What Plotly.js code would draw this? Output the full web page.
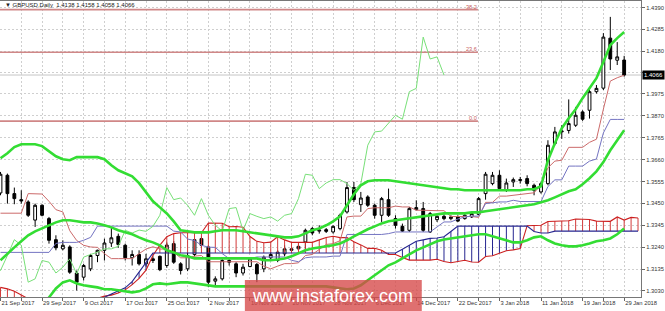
<!DOCTYPE html>
<html><head><meta charset="utf-8">
<script src="https://cdn.plot.ly/plotly-3.0.1.min.js"></script>
<style>html,body{margin:0;padding:0;background:#fff;overflow:hidden}#chart{width:665px;height:311px}</style>
</head><body><div id="chart"></div>
<script>
// ---- data ----
const symbol = "GBPUSD,Daily";
const tickDates = ["21 Sep 2017","29 Sep 2017","9 Oct 2017","17 Oct 2017","25 Oct 2017","2 Nov 2017","10 Nov 2017","20 Nov 2017","28 Nov 2017","6 Dec 2017","14 Dec 2017","22 Dec 2017","3 Jan 2018","11 Jan 2018","19 Jan 2018","29 Jan 2018"];
const priceTicks = [1.3030,1.3135,1.3240,1.3345,1.3450,1.3555,1.3660,1.3765,1.3870,1.3975,1.4078,1.4180,1.4285,1.4390];
const priceTickText = ["1.3030","1.3135","1.3240","1.3345","1.3450","1.3555","1.3660","1.3765","1.3870","1.3975","","1.4180","1.4285","1.4390"];

const open = [1.3500,1.3585,1.3497,1.3468,1.3457,1.3370,1.3441,1.3377,1.3276,1.3232,
1.3241,1.3116,1.3096,1.3136,1.3200,1.3225,1.3260,1.3292,1.3249,1.3189,
1.3205,1.3160,1.3184,1.3196,1.3152,1.3257,1.3160,1.3136,1.3205,1.3281,
1.3241,1.3077,1.3088,1.3176,1.3160,1.3116,1.3147,1.3157,1.3136,1.3189,
1.3176,1.3208,1.3225,1.3232,1.3265,1.3329,1.3317,1.3324,1.3313,1.3329,
1.3409,1.3526,1.3444,1.3481,1.3441,1.3393,1.3468,1.3377,1.3340,1.3321,
1.3420,1.3425,1.3313,1.3372,1.3388,1.3377,1.3385,1.3377,1.3385,1.3397,
1.3497,1.3545,1.3585,1.3516,1.3553,1.3560,1.3569,1.3537,1.3505,1.3545,
1.3737,1.3793,1.3800,1.3825,1.3889,1.3897,1.3986,1.4003,1.4243,1.4137,
1.4138];
const high = [1.3601,1.3593,1.3526,1.3513,1.3465,1.3449,1.3446,1.3385,1.3297,1.3273,
1.3249,1.3128,1.3160,1.3208,1.3228,1.3281,1.3337,1.3305,1.3257,1.3225,
1.3225,1.3208,1.3196,1.3200,1.3262,1.3269,1.3168,1.3212,1.3285,1.3292,
1.3249,1.3100,1.3184,1.3192,1.3168,1.3160,1.3192,1.3164,1.3200,1.3216,
1.3225,1.3249,1.3241,1.3257,1.3329,1.3337,1.3345,1.3332,1.3345,1.3401,
1.3553,1.3553,1.3505,1.3489,1.3449,1.3481,1.3521,1.3393,1.3353,1.3433,
1.3465,1.3457,1.3409,1.3393,1.3398,1.3393,1.3393,1.3401,1.3409,1.3481,
1.3601,1.3601,1.3609,1.3569,1.3574,1.3577,1.3585,1.3545,1.3553,1.3753,
1.3817,1.3825,1.3949,1.3913,1.3897,1.3997,1.4018,1.4267,1.4345,1.4224,
1.4158];
const low = [1.3489,1.3449,1.3446,1.3449,1.3385,1.3337,1.3388,1.3257,1.3225,1.3225,
1.3112,1.3032,1.3080,1.3125,1.3168,1.3176,1.3241,1.3237,1.3176,1.3152,
1.3152,1.3147,1.3164,1.3125,1.3141,1.3160,1.3109,1.3125,1.3196,1.3237,
1.3048,1.3056,1.3080,1.3152,1.3096,1.3104,1.3144,1.3072,1.3120,1.3180,
1.3168,1.3196,1.3216,1.3225,1.3225,1.3297,1.3305,1.3308,1.3305,1.3321,
1.3401,1.3457,1.3409,1.3433,1.3377,1.3361,1.3385,1.3329,1.3313,1.3313,
1.3417,1.3313,1.3308,1.3361,1.3369,1.3369,1.3361,1.3372,1.3380,1.3393,
1.3468,1.3537,1.3513,1.3505,1.3529,1.3545,1.3532,1.3489,1.3497,1.3537,
1.3729,1.3760,1.3785,1.3817,1.3846,1.3857,1.3977,1.3994,1.4090,1.4114,
1.4058];
const close = [1.3590,1.3497,1.3473,1.3462,1.3393,1.3441,1.3393,1.3273,1.3237,1.3249,
1.3120,1.3072,1.3152,1.3200,1.3225,1.3260,1.3285,1.3253,1.3189,1.3205,
1.3160,1.3184,1.3176,1.3132,1.3250,1.3168,1.3128,1.3200,1.3276,1.3249,
1.3072,1.3088,1.3176,1.3168,1.3116,1.3144,1.3184,1.3112,1.3192,1.3205,
1.3216,1.3232,1.3232,1.3244,1.3321,1.3308,1.3322,1.3316,1.3340,1.3393,
1.3526,1.3468,1.3476,1.3441,1.3393,1.3473,1.3393,1.3345,1.3317,1.3425,
1.3430,1.3321,1.3401,1.3388,1.3377,1.3385,1.3365,1.3393,1.3401,1.3473,
1.3590,1.3585,1.3521,1.3548,1.3564,1.3564,1.3545,1.3513,1.3545,1.3729,
1.3793,1.3797,1.3833,1.3873,1.3854,1.3986,1.4002,1.4248,1.4143,1.4153,
1.4066];

const tenkan = [1.3403,1.3403,1.3403,1.3403,1.3497,1.3497,1.3495,1.3460,1.3420,1.3409,
1.3319,1.3272,1.3249,1.3241,1.3239,1.3209,1.3185,1.3185,1.3185,1.3185,
1.3209,1.3231,1.3242,1.3231,1.3231,1.3215,1.3189,1.3189,1.3197,1.3200,
1.3170,1.3170,1.3170,1.3170,1.3170,1.3170,1.3170,1.3170,1.3149,1.3136,
1.3149,1.3161,1.3161,1.3165,1.3200,1.3205,1.3229,1.3253,1.3257,1.3271,
1.3385,1.3389,1.3389,1.3425,1.3429,1.3429,1.3429,1.3437,1.3433,1.3433,
1.3417,1.3417,1.3415,1.3415,1.3415,1.3387,1.3387,1.3387,1.3387,1.3383,
1.3455,1.3455,1.3485,1.3485,1.3489,1.3491,1.3495,1.3501,1.3539,1.3621,
1.3653,1.3657,1.3719,1.3719,1.3719,1.3743,1.3758,1.3902,1.4037,1.4053,
1.4065];
const kijun = [1.3215,1.3215,1.3215,1.3215,1.3215,1.3215,1.3215,1.3215,1.3258,1.3263,
1.3263,1.3263,1.3273,1.3287,1.3341,1.3341,1.3341,1.3341,1.3341,1.3341,
1.3341,1.3341,1.3341,1.3341,1.3341,1.3317,1.3313,1.3279,1.3272,1.3249,
1.3240,1.3239,1.3209,1.3185,1.3185,1.3185,1.3185,1.3193,1.3193,1.3193,
1.3193,1.3193,1.3177,1.3170,1.3189,1.3193,1.3193,1.3193,1.3197,1.3197,
1.3301,1.3301,1.3301,1.3301,1.3301,1.3301,1.3305,1.3313,1.3313,1.3313,
1.3313,1.3313,1.3313,1.3337,1.3361,1.3361,1.3375,1.3385,1.3389,1.3389,
1.3449,1.3453,1.3457,1.3457,1.3465,1.3459,1.3459,1.3459,1.3459,1.3531,
1.3563,1.3563,1.3629,1.3629,1.3629,1.3653,1.3663,1.3788,1.3853,1.3853,
1.3853];
const senkouA = [1.3047,1.3040,1.3028,1.3010,1.2990,1.2975,1.2965,1.2960,1.2960,1.2960,
1.2965,1.2970,1.2975,1.2985,1.2995,1.3005,1.3010,1.3020,1.3035,1.3060,
1.3090,1.3130,1.3200,1.3250,1.3290,1.3305,1.3309,1.3309,1.3309,1.3309,
1.3356,1.3356,1.3355,1.3338,1.3339,1.3336,1.3291,1.3268,1.3261,1.3264,
1.3290,1.3275,1.3263,1.3263,1.3263,1.3263,1.3275,1.3286,1.3292,1.3286,
1.3286,1.3266,1.3251,1.3234,1.3235,1.3225,1.3205,1.3205,1.3190,1.3178,
1.3178,1.3178,1.3178,1.3182,1.3171,1.3165,1.3171,1.3177,1.3169,1.3168,
1.3195,1.3199,1.3211,1.3223,1.3227,1.3234,1.3343,1.3345,1.3345,1.3363,
1.3365,1.3365,1.3367,1.3375,1.3373,1.3373,1.3365,1.3365,1.3364,1.3385,
1.3370,1.3383,1.3380];
const senkouB = [1.2950,1.2950,1.2950,1.2950,1.2950,1.2950,1.2950,1.2950,1.2950,1.2950,
1.2950,1.2950,1.2950,1.2950,1.2990,1.3000,1.3015,1.3030,1.3045,1.3075,
1.3120,1.3165,1.3212,1.3212,1.3212,1.3212,1.3212,1.3212,1.3212,1.3212,
1.3212,1.3212,1.3212,1.3212,1.3212,1.3212,1.3212,1.3212,1.3212,1.3212,
1.3212,1.3212,1.3212,1.3212,1.3212,1.3212,1.3212,1.3212,1.3212,1.3212,
1.3212,1.3212,1.3212,1.3212,1.3212,1.3212,1.3212,1.3212,1.3230,1.3250,
1.3268,1.3275,1.3282,1.3284,1.3290,1.3315,1.3341,1.3341,1.3341,1.3341,
1.3341,1.3341,1.3341,1.3341,1.3341,1.3341,1.3341,1.3315,1.3308,1.3308,
1.3317,1.3317,1.3317,1.3317,1.3317,1.3317,1.3317,1.3317,1.3317,1.3317,
1.3317,1.3317,1.3317];
const bbUpper = [1.3667,1.3691,1.3720,1.3734,1.3734,1.3734,1.3725,1.3700,1.3676,1.3662,
1.3657,1.3672,1.3672,1.3672,1.3672,1.3662,1.3633,1.3609,1.3595,1.3580,
1.3547,1.3503,1.3460,1.3431,1.3402,1.3364,1.3321,1.3316,1.3311,1.3311,
1.3311,1.3316,1.3321,1.3321,1.3321,1.3316,1.3311,1.3306,1.3302,1.3297,
1.3292,1.3287,1.3287,1.3292,1.3306,1.3321,1.3330,1.3345,1.3364,1.3388,
1.3441,1.3494,1.3537,1.3556,1.3561,1.3561,1.3561,1.3556,1.3551,1.3547,
1.3542,1.3537,1.3532,1.3527,1.3523,1.3518,1.3518,1.3513,1.3513,1.3513,
1.3513,1.3513,1.3513,1.3513,1.3513,1.3513,1.3518,1.3518,1.3532,1.3657,
1.3739,1.3811,1.3859,1.3902,1.3955,1.4003,1.4051,1.4128,1.4210,1.4243,
1.4272];
const bbMiddle = [1.3177,1.3210,1.3239,1.3268,1.3297,1.3316,1.3330,1.3345,1.3359,1.3369,
1.3369,1.3364,1.3359,1.3359,1.3354,1.3345,1.3335,1.3321,1.3311,1.3302,
1.3287,1.3273,1.3263,1.3249,1.3225,1.3215,1.3201,1.3196,1.3186,1.3186,
1.3186,1.3186,1.3186,1.3186,1.3186,1.3186,1.3186,1.3186,1.3177,1.3177,
1.3181,1.3186,1.3196,1.3210,1.3225,1.3234,1.3239,1.3244,1.3249,1.3258,
1.3273,1.3292,1.3311,1.3326,1.3340,1.3354,1.3364,1.3369,1.3374,1.3378,
1.3383,1.3388,1.3393,1.3398,1.3402,1.3402,1.3402,1.3402,1.3407,1.3407,
1.3412,1.3417,1.3422,1.3426,1.3431,1.3436,1.3441,1.3446,1.3455,1.3465,
1.3479,1.3494,1.3508,1.3518,1.3542,1.3571,1.3604,1.3648,1.3705,1.3753,
1.3801];
const bbLower = [1.2690,1.2730,1.2770,1.2810,1.2860,1.2910,1.2950,1.2999,1.3042,1.3071,
1.3081,1.3066,1.3057,1.3052,1.3047,1.3038,1.3038,1.3033,1.3028,1.3023,
1.3028,1.3042,1.3062,1.3066,1.3062,1.3066,1.3071,1.3071,1.3066,1.3062,
1.3057,1.3052,1.3052,1.3052,1.3052,1.3052,1.3052,1.3052,1.3052,1.3052,
1.3052,1.3052,1.3052,1.3052,1.3052,1.3052,1.3052,1.3052,1.3047,1.3042,
1.3038,1.3042,1.3057,1.3081,1.3105,1.3129,1.3153,1.3167,1.3186,1.3205,
1.3225,1.3239,1.3254,1.3268,1.3277,1.3282,1.3287,1.3292,1.3297,1.3302,
1.3302,1.3292,1.3282,1.3273,1.3263,1.3263,1.3273,1.3287,1.3292,1.3273,
1.3258,1.3249,1.3244,1.3244,1.3249,1.3258,1.3268,1.3273,1.3282,1.3302,
1.3330];
const fibLevels = ["0.0","23.6","38.2"];
const fibPrices = [1.3845,1.4175,1.4380];

// ---- build chart ----
const n = close.length;
const idx = close.map((_, i) => i);
const cloudIdx = senkouA.map((_, i) => i);
const chikouX = idx.map(i => i - 26);
const upX=[],upY=[],dnX=[],dnY=[];
senkouA.forEach((a,i)=>{const b=senkouB[i];
  if(a>=b){upX.push(i,i,null);upY.push(a,b,null);} else {dnX.push(i,i,null);dnY.push(a,b,null);} });
const fibEnd = 68.9, xMin = -0.07, xMax = 92.43;
const fibX=[],fibY=[];
fibPrices.forEach(p=>{fibX.push(xMin,fibEnd,null);fibY.push(p,p,null);});

const RED='#d23a3a', NAVY='#262690', GREEN='#33dd33';
const ln=(x,y,color,w)=>({type:'scatter',mode:'lines',x:x,y:y,line:{color:color,width:w},hoverinfo:'skip',connectgaps:false});
const traces=[
  ln(upX,upY,RED,1), ln(dnX,dnY,NAVY,1),
  ln(cloudIdx,senkouA,'#cc2020',1.1), ln(cloudIdx,senkouB,NAVY,1.1),
  ln(fibX,fibY,'rgb(208,135,135)',1.6),
  {type:'candlestick',x:idx,open:open,high:high,low:low,close:close,whiskerwidth:0,
   increasing:{line:{color:'#000',width:1},fillcolor:'#fff'},
   decreasing:{line:{color:'#000',width:1},fillcolor:'#000'},hoverinfo:'skip'},
  ln(idx,tenkan,'#cc6a6a',1), ln(idx,kijun,'#7474c2',1), ln(chikouX,close,'#78e078',1),
  ln(idx,bbUpper,GREEN,2.6), ln(idx,bbMiddle,GREEN,2.6), ln(idx,bbLower,GREEN,2.6)
];
const xt=[],xl=[];
for(let i=0;i<n;i+=3){xt.push(i); xl.push(i%6===0?tickDates[i/6]:'');}
const tf={family:'Liberation Sans, Arial, sans-serif',size:5.8,color:'#333'};
const last=n-1;
const annotations=[
  {xref:'paper',yref:'paper',x:0.004,y:0.985,xanchor:'left',yanchor:'middle',showarrow:false,
   text:'\u25BC '+symbol+'  '+[open[last],high[last],low[last],close[last]].map(v=>v.toFixed(4)).join(' '),
   font:{family:'Liberation Sans, Arial, sans-serif',size:6,color:'#222'}},
  {xref:'paper',yref:'y',x:1,y:close[last],xanchor:'left',yanchor:'middle',xshift:1,showarrow:false,
   text:close[last].toFixed(4),bgcolor:'#000',borderpad:1,font:{family:'Liberation Sans, Arial, sans-serif',size:6,color:'#fff'}},
  {xref:'paper',yref:'paper',x:0.5195,y:0.004,xanchor:'center',yanchor:'middle',showarrow:false,
   text:'www.instaforex.com',font:{family:'Liberation Sans, Arial, sans-serif',size:18,color:'#fff'}}
];
fibPrices.forEach((p,k)=>annotations.push({xref:'x',yref:'y',x:fibEnd,y:p,xanchor:'right',yanchor:'bottom',showarrow:false,
   text:fibLevels[k],font:{family:'Liberation Sans, Arial, sans-serif',size:5.6,color:'#c86060'},borderpad:0,yshift:-1}));

const layout={
  width:665,height:311,margin:{l:0,r:24,t:1,b:14},paper_bgcolor:'#fff',plot_bgcolor:'#fff',
  showlegend:false,boxgap:0.42,hovermode:false,
  xaxis:{range:[xMin,xMax],tickmode:'array',tickvals:xt,ticktext:xl,showgrid:true,gridcolor:'#cfcfcf',griddash:'2px,2px',
    ticks:'outside',ticklen:3,tickcolor:'#666',showline:true,linecolor:'#777',mirror:true,zeroline:false,
    rangeslider:{visible:false},tickfont:tf,tickangle:0,ticklabelposition:'outside right',fixedrange:true},
  yaxis:{range:[1.30009,1.44212],side:'right',tickmode:'array',tickvals:priceTicks,ticktext:priceTickText,
    showgrid:true,gridcolor:'#cfcfcf',griddash:'2px,2px',ticks:'outside',ticklen:3,tickcolor:'#666',
    showline:true,linecolor:'#777',zeroline:false,tickfont:tf,fixedrange:true},
  shapes:[
    {type:'line',xref:'paper',yref:'y',x0:0,x1:1,y0:close[last],y1:close[last],line:{color:'#c6c6c6',width:1},layer:'below'},
    {type:'rect',xref:'paper',yref:'paper',x0:0.382,x1:0.658,y0:-0.0473,y1:0.0574,fillcolor:'rgba(214,72,72,0.78)',line:{width:0},layer:'above'}
  ],
  annotations:annotations
};
Plotly.newPlot('chart',traces,layout,{staticPlot:true,displayModeBar:false});
</script></body></html>
